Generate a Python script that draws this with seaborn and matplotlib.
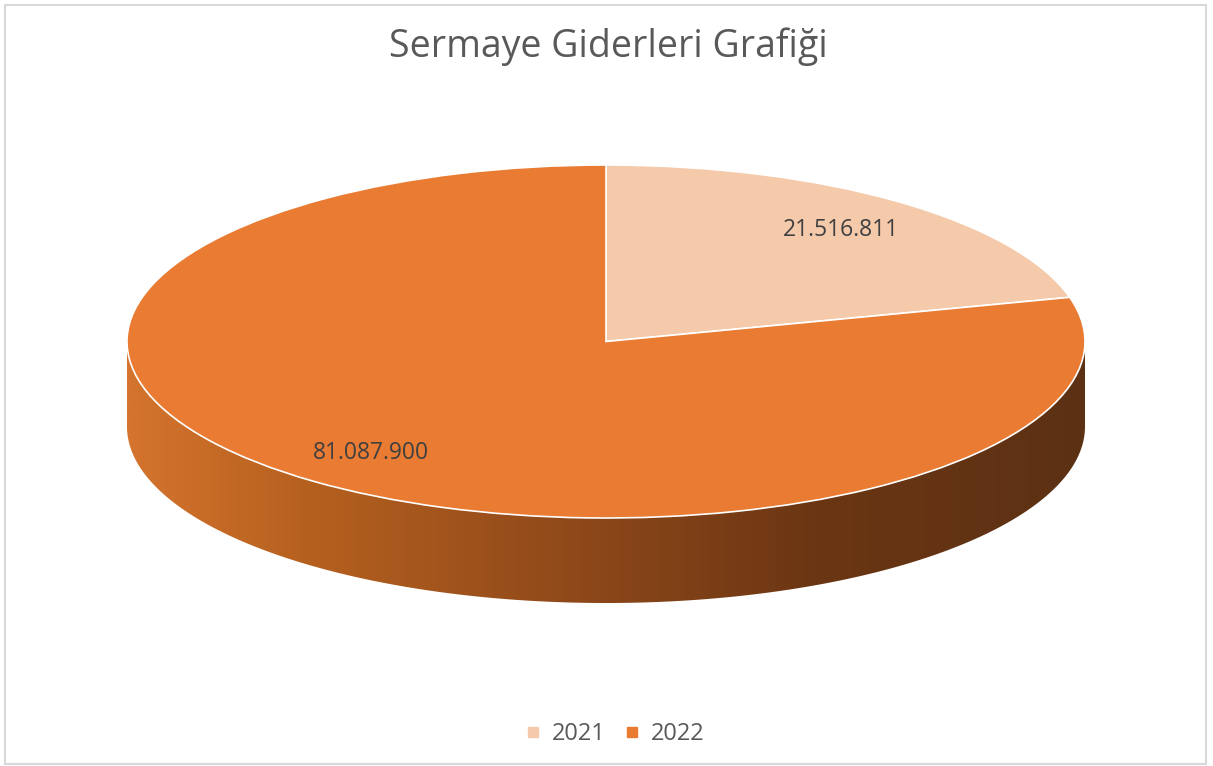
import numpy as np
import matplotlib
matplotlib.use("Agg")
import matplotlib.pyplot as plt
import seaborn as sns
from matplotlib.colors import LinearSegmentedColormap
from matplotlib.patches import Polygon, Rectangle

# ---- data ----
years = ["2021", "2022"]
values = [21516811, 81087900]
slice_colors = ["#F5CAAA", "#E97B32"]
title = "Sermaye Giderleri Grafiği"

sns.set_theme(style="white")
plt.rcParams['font.family'] = ['Open Sans', 'DejaVu Sans']

W, H = 1213, 766
fig = plt.figure(figsize=(W / 100, H / 100), dpi=100)

# pie geometry in pixels
left_px, right_px = 127, 1085
top_px, ell_bottom_px, wall_bottom_px = 165, 518, 603
b_px = (ell_bottom_px - top_px) / 2
depth = (wall_bottom_px - ell_bottom_px) / b_px

ax = fig.add_axes([left_px / W, 1 - wall_bottom_px / H,
                   (right_px - left_px) / W, (wall_bottom_px - top_px) / H])

# side wall (front half)
t = np.linspace(np.pi, 2 * np.pi, 400)
xs, ys = np.cos(t), np.sin(t)
pts = np.concatenate([np.column_stack([xs, ys]),
                      np.column_stack([xs[::-1], ys[::-1] - depth])])
wall = Polygon(pts, closed=True, facecolor="none", edgecolor="none")
ax.add_patch(wall)
cmap = LinearSegmentedColormap.from_list(
    "wall", [(0, "#D4742E"), (0.18, "#B7611F"), (0.5, "#8A4619"),
             (0.72, "#6B3613"), (1, "#5C3114")])
grad = np.linspace(0, 1, 512)[None, :]
im = ax.imshow(grad, cmap=cmap, extent=(-1, 1, -1 - depth, 0),
               aspect="auto", zorder=1, interpolation="bilinear")
im.set_clip_path(wall)


def fmt(v):
    return f"{v:,}".replace(",", ".")


wedges, texts, autotexts = ax.pie(
    values, colors=slice_colors, startangle=90, counterclock=False,
    autopct="%1.0f", pctdistance=0.8,
    wedgeprops=dict(edgecolor="white", linewidth=1.2),
    textprops=dict(color="#404040", fontsize=16.5))
for w in wedges:
    w.set_zorder(2)
for a, v in zip(autotexts, values):
    a.set_text(fmt(v))
    a.set_zorder(3)

ax.set_aspect("auto")
ax.set_xlim(-1, 1)
ax.set_ylim(-1 - depth, 1)
ax.axis("off")

# title
fig.text(608 / W, 1 - 47 / H, title, ha="center", va="center",
         fontsize=27, color="#595959")

# legend
handles = [plt.Line2D([], [], marker="s", linestyle="none", markersize=7,
                      markerfacecolor=c, markeredgecolor=c) for c in slice_colors]
fig.legend(handles, years, loc="center", bbox_to_anchor=(613 / W, 1 - 734 / H),
           ncol=2, frameon=False, fontsize=17, labelcolor="#595959",
           handletextpad=0.3, columnspacing=0.6, handlelength=1.0)

# border
fig.patches.append(Rectangle((5 / W, 1 - 764 / H), 1201 / W, 759 / H,
                             transform=fig.transFigure, fill=False,
                             edgecolor="#D9D9D9", linewidth=1.5))

fig.savefig("out.png", dpi=100)
